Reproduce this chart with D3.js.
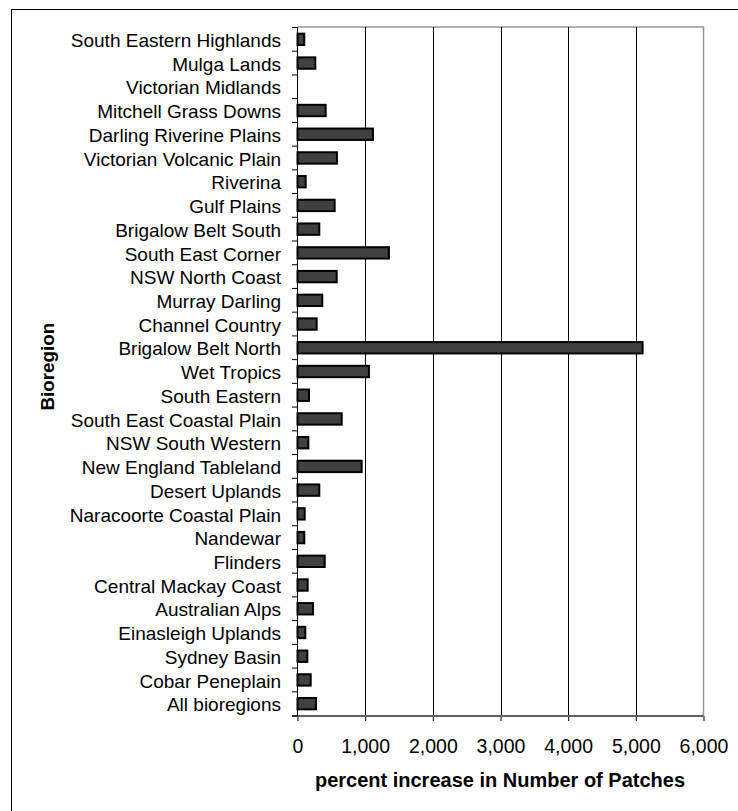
<!DOCTYPE html>
<html>
<head>
<meta charset="utf-8">
<script src="https://cdn.jsdelivr.net/npm/d3@7"></script>
<style>
  html, body { margin: 0; padding: 0; background: #fff; }
  svg { display: block; }
  text { font-family: "Liberation Sans", Arial, Helvetica, sans-serif; fill: #000; }
</style>
</head>
<body>
<svg id="chart" width="738" height="811"></svg>
<script>
const categories = [
  "South Eastern Highlands", "Mulga Lands", "Victorian Midlands", "Mitchell Grass Downs",
  "Darling Riverine Plains", "Victorian Volcanic Plain", "Riverina", "Gulf Plains",
  "Brigalow Belt South", "South East Corner", "NSW North Coast", "Murray Darling",
  "Channel Country", "Brigalow Belt North", "Wet Tropics", "South Eastern",
  "South East Coastal Plain", "NSW South Western", "New England Tableland", "Desert Uplands",
  "Naracoorte Coastal Plain", "Nandewar", "Flinders", "Central Mackay Coast",
  "Australian Alps", "Einasleigh Uplands", "Sydney Basin", "Cobar Peneplain", "All bioregions"
];
const values = [
  100, 263, 0, 416,
  1115, 583, 121, 549,
  322, 1351, 579, 366,
  283, 5100, 1056, 170,
  653, 160, 948, 322,
  106, 100, 402, 150,
  229, 115, 145, 195, 273
];
const xTicks = [0, 1000, 2000, 3000, 4000, 5000, 6000];
const xTitle = "percent increase in Number of Patches";
const yTitle = "Bioregion";

const svg = d3.select("#chart");
const L = 297.5, R = 703.5, T = 27, B = 716;

// outer frame
svg.append("rect").attr("x", 11.5).attr("y", 9.5).attr("width", 760).attr("height", 830)
  .attr("fill", "none").attr("stroke", "#000").attr("stroke-width", 1);

const x = d3.scaleLinear().domain([0, 6000]).range([L, R]);
const y = d3.scaleBand().domain(categories).range([T, B]).paddingInner(0.52).paddingOuter(0.28);

// plot border (top, right) gray
svg.append("path")
  .attr("d", `M${L},${T}H${R}V${B}`)
  .attr("fill", "none").attr("stroke", "#999").attr("stroke-width", 1.5);

// gridlines
svg.append("g").selectAll("line")
  .data(xTicks.filter(t => t > 0 && t < 6000))
  .join("line")
  .attr("x1", d => Math.round(x(d)) + 0.5).attr("x2", d => Math.round(x(d)) + 0.5)
  .attr("y1", T).attr("y2", B)
  .attr("stroke", "#000").attr("stroke-width", 1);

// bars
svg.append("g").selectAll("rect")
  .data(categories.map((c, i) => ({ c, v: values[i] })).filter(d => d.v > 0))
  .join("rect")
  .attr("x", x(0))
  .attr("y", d => y(d.c))
  .attr("width", d => x(d.v) - x(0))
  .attr("height", y.bandwidth())
  .attr("fill", "#404040")
  .attr("stroke", "#000")
  .attr("stroke-width", 2);

// x axis
const xAxis = d3.axisBottom(x).tickValues(xTicks).tickSize(5).tickPadding(0)
  .tickFormat(d3.format(","));
const gx = svg.append("g").attr("transform", `translate(0,${B})`).call(xAxis);
gx.select(".domain").remove();
gx.selectAll(".tick line").attr("stroke", "#000");
gx.selectAll(".tick text").attr("font-size", "19.5px").attr("y", 37).attr("dy", 0)
  .style("font-family", '"Liberation Sans", Arial, sans-serif');
svg.append("line").attr("x1", 292).attr("x2", R).attr("y1", B).attr("y2", B)
  .attr("stroke", "#606060").attr("stroke-width", 2);

// y axis
const bounds = categories.map(c => y(c) - y.step() * y.paddingInner() / 2).concat([B]);
svg.append("line").attr("x1", L).attr("x2", L).attr("y1", T).attr("y2", B)
  .attr("stroke", "#000").attr("stroke-width", 1);
svg.append("g").selectAll("line").data(bounds).join("line")
  .attr("x1", 292).attr("x2", L).attr("y1", d => d).attr("y2", d => d)
  .attr("stroke", "#000").attr("stroke-width", 1);

svg.append("g").selectAll("text").data(categories).join("text")
  .attr("x", 281)
  .attr("y", d => y(d) + y.bandwidth() / 2 + 1)
  .attr("dy", "0.35em")
  .attr("text-anchor", "end")
  .attr("font-size", "19px")
  .text(d => d);

// titles
svg.append("text").attr("x", 500).attr("y", 787).attr("text-anchor", "middle")
  .attr("font-size", "20px").attr("font-weight", "bold").text(xTitle);
svg.append("text").attr("transform", "translate(53.5,366.7) rotate(-90)")
  .attr("text-anchor", "middle").attr("font-size", "18.8px").attr("font-weight", "bold").text(yTitle);
</script>
</body>
</html>
